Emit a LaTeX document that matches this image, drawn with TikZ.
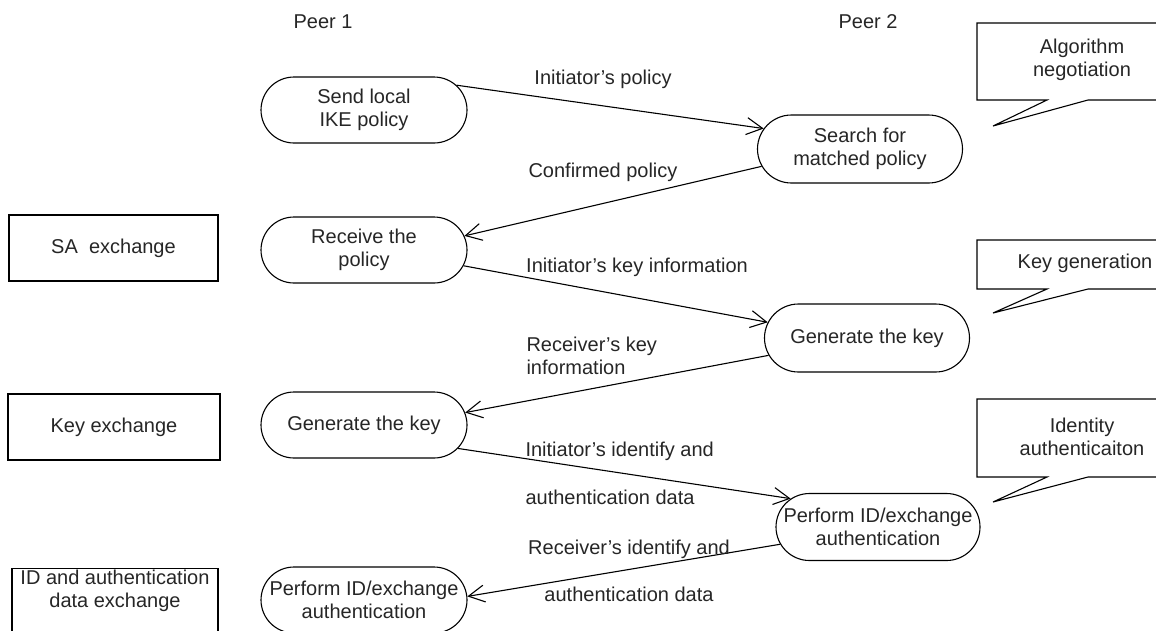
\documentclass[tikz,border=0pt]{standalone}
\usepackage{fontspec}
\setmainfont{Liberation Sans}
\usetikzlibrary{shapes.misc,arrows.meta}
\begin{document}
\begin{tikzpicture}[x=1pt,y=-1pt,
  every node/.style={font=\fontsize{20}{23.5}\selectfont, text=black!85},
  pill/.style={rounded rectangle, draw, line width=1.1pt, minimum width=138pt,
    minimum height=66pt, inner xsep=-34pt, inner ysep=0pt, align=center},
  box/.style={rectangle, draw, line width=1.1pt, minimum height=66pt,
    inner sep=0pt, align=center},
  msg/.style={draw, line width=1.1pt, -{Straight Barb[length=16pt,width=17pt]}},
  lbl/.style={inner sep=0pt, align=center},
  balloon/.style={draw, line width=1.1pt, fill=white}
]
\useasboundingbox (0,0) rectangle (1156,630);

% column headings
\node[lbl] (peerA) at (323,22) {Peer 1};
\node[lbl] (peerB) at (868,22) {Peer 2};

% phase boxes on the left
\node[box, minimum width=209pt] (sa) at (113.5,248) {SA\ \ exchange};
\node[box, minimum width=212pt] (kx) at (114,427) {Key exchange};
\node[box, anchor=north, minimum width=206pt, minimum height=90pt] (idx) at (115,568) {};
\node[lbl] (idxtext) at (115,591) {ID and authentication\\data exchange};

% steps of peer 1
\node[pill] (send)  at (364,110) {Send local\\IKE policy};
\node[pill] (recv)  at (364,250) {Receive the\\policy};
\node[pill] (genl)  at (364,425) {Generate the key};
\node[pill] (perfl) at (364,600) {Perform ID/exchange\\authentication};

% steps of peer 2
\node[pill, minimum width=137pt, minimum height=68pt] (search) at (860,149) {Search for\\matched policy};
\node[pill, minimum width=137pt, minimum height=68pt] (genr)   at (867,338) {Generate the key};
\node[pill, minimum width=136pt, minimum height=67pt] (perfr)  at (878,527) {Perform ID/exchange\\authentication};

% messages
\draw[msg] (send.15) -- (search.168)
  node[lbl] (m1) at (603,79) {Initiator's policy};
\draw[msg] (search.190) -- (recv.8)
  node[lbl] (m2) at (603,172) {Confirmed policy};
\draw[msg] (recv.-9) -- (genr.171)
  node[lbl] (m3) at (637,267) {Initiator's key information};
\draw[msg] (genr.190) -- (genl.7)
  node[lbl, align=left, anchor=west] (m4) at (526,356) {Receiver's key\\information};
\draw[msg] (genl.-14) -- (perfr.162)
  node[lbl, align=left, anchor=west] (m5) at (525,473) {Initiator's identify and\\[24.5pt]authentication data};
\draw[msg] (perfr.190) -- (perfl.2)
  node[lbl] (m6) at (629,570.5) {Receiver's identify and\\[23.5pt]authentication data};

% callouts on the right
\draw[balloon] (1170,23) -- (977,23) -- (977,100) -- (1047,100) -- (993,126) -- (1088,100) -- (1170,100);
\node[lbl] (algo) at (1082,60) {Algorithm\\negotiation};

\draw[balloon] (1170,240) -- (977,240) -- (977,289) -- (1047,289) -- (993,313) -- (1088,289) -- (1170,289);
\node[lbl] (keygen) at (1085,263) {Key generation};

\draw[balloon] (1170,399) -- (977,399) -- (977,477) -- (1047,477) -- (993,502) -- (1088,477) -- (1170,477);
\node[lbl] (ident) at (1082,437) {Identity\\authenticaiton};
\end{tikzpicture}
\end{document}
